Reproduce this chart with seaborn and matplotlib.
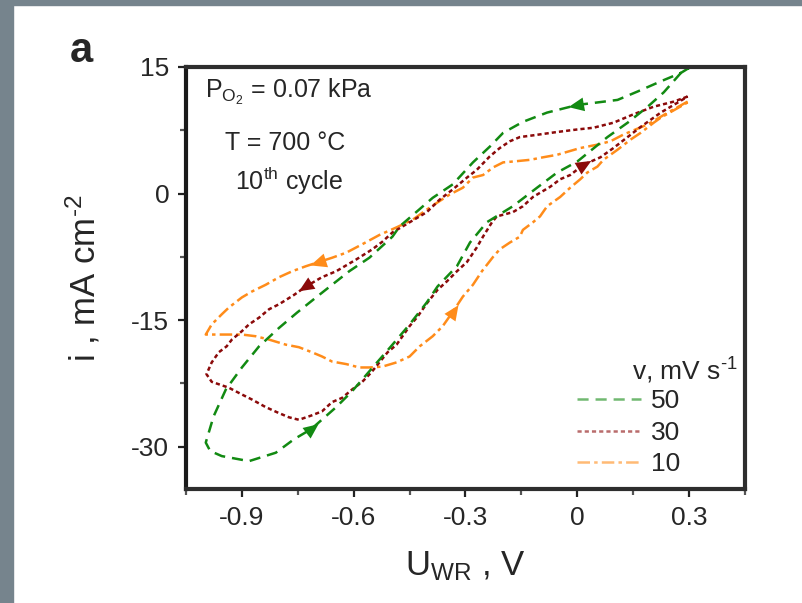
import numpy as np
import pandas as pd
import matplotlib
matplotlib.use("Agg")
import matplotlib.pyplot as plt
import seaborn as sns
from matplotlib.patches import Rectangle
from matplotlib.lines import Line2D
from matplotlib.path import Path
from matplotlib.ticker import FixedLocator, FixedFormatter

# ---------------- data ----------------
u50 = [0.30, 0.278, 0.224, 0.162, 0.108, 0.0, -0.081, -0.146, -0.199, -0.234, -0.280, -0.334,
       -0.388, -0.477, -0.496, -0.558, -0.612, -0.658, -0.701, -0.752, -0.800, -0.854, -0.900,
       -0.943, -0.976, -0.997, -0.985, -0.954, -0.881, -0.809, -0.760, -0.714, -0.647, -0.604,
       -0.496, -0.450, -0.404, -0.375, -0.323, -0.288, -0.243, -0.173, -0.108, -0.054, 0.0,
       0.081, 0.135, 0.189, 0.232, 0.278, 0.30]
i50 = [14.9, 14.3, 13.3, 12.1, 11.1, 10.5, 9.6, 8.5, 7.2, 5.6, 3.7, 1.1,
       -0.5, -3.9, -5.1, -7.6, -9.2, -10.8, -12.3, -14.1, -15.9, -18.1, -20.6,
       -23.2, -26.4, -29.5, -30.5, -31.1, -31.7, -30.7, -29.1, -27.9, -25.3, -23.4,
       -17.9, -15.5, -12.9, -11.0, -8.6, -5.8, -3.4, -1.5, 0.7, 2.5, 3.8,
       6.7, 8.4, 10.3, 12.0, 14.3, 14.9]

u30 = [0.296, 0.259, 0.205, 0.151, 0.097, 0.043, 0.0, -0.054, -0.119, -0.154, -0.181, -0.208,
       -0.235, -0.270, -0.296, -0.334, -0.369, -0.404, -0.450, -0.496, -0.523, -0.550, -0.593,
       -0.647, -0.685, -0.728, -0.760, -0.800, -0.827, -0.854, -0.881, -0.900, -0.927, -0.941,
       -0.962, -0.981, -0.995, -0.981, -0.935, -0.900, -0.873, -0.836, -0.806, -0.774, -0.747,
       -0.714, -0.685, -0.658, -0.631, -0.604, -0.577, -0.553, -0.531, -0.509, -0.485, -0.469,
       -0.450, -0.429, -0.402, -0.375, -0.350, -0.323, -0.296, -0.270, -0.253, -0.229, -0.216,
       -0.173, -0.146, -0.119, -0.073, -0.046, -0.019, 0.016, 0.062, 0.097, 0.135, 0.170,
       0.224, 0.270, 0.296]
i30 = [11.5, 10.9, 10.3, 9.4, 8.4, 7.8, 7.6, 7.3, 6.9, 6.7, 6.2, 5.4,
       4.4, 2.8, 1.9, 0.5, -0.7, -2.2, -3.4, -4.6, -5.7, -6.6, -7.8,
       -9.2, -9.9, -11.0, -12.0, -13.1, -13.7, -14.7, -15.5, -16.3, -17.3, -18.1,
       -18.8, -20.0, -21.4, -22.3, -23.0, -23.8, -24.4, -25.3, -25.9, -26.5, -26.8,
       -26.3, -25.8, -24.7, -24.2, -23.2, -22.3, -21.2, -20.0, -18.8, -17.9, -16.9,
       -15.7, -14.6, -12.9, -11.4, -10.4, -9.2, -8.1, -6.4, -5.1, -3.4, -2.7,
       -2.2, -1.5, -0.4, 0.8, 1.7, 2.2, 3.4, 4.3, 5.4, 6.7, 7.9,
       9.6, 10.8, 11.5]

u10 = [0.296, 0.243, 0.189, 0.124, 0.089, 0.054, 0.008, -0.054, -0.092, -0.127, -0.173, -0.199,
       -0.226, -0.253, -0.280, -0.307, -0.342, -0.377, -0.404, -0.442, -0.485, -0.531, -0.577,
       -0.620, -0.658, -0.693, -0.728, -0.765, -0.800, -0.836, -0.873, -0.900, -0.935, -0.954,
       -0.981, -0.997, -0.981, -0.935, -0.900, -0.863, -0.827, -0.782, -0.747, -0.712, -0.685,
       -0.658, -0.620, -0.585, -0.558, -0.523, -0.485, -0.450, -0.423, -0.388, -0.361, -0.334,
       -0.307, -0.280, -0.256, -0.226, -0.208, -0.181, -0.154, -0.146, -0.119, -0.100, -0.081,
       -0.046, -0.019, 0.008, 0.027, 0.054, 0.070, 0.108, 0.143, 0.170, 0.205, 0.224, 0.296]
i10 = [10.9, 9.6, 8.2, 7.0, 6.2, 5.8, 5.4, 4.6, 4.3, 4.0, 3.8, 3.7,
       3.1, 2.2, 1.9, 0.7, -0.1, -1.1, -1.9, -3.1, -4.0, -4.9, -6.0,
       -7.0, -7.6, -8.1, -8.6, -9.2, -9.9, -10.8, -11.6, -12.3, -13.5, -14.3,
       -15.5, -16.7, -16.7, -16.7, -16.7, -16.9, -17.3, -17.9, -18.2, -18.8, -19.3,
       -19.9, -20.2, -20.6, -20.6, -20.5, -20.0, -19.3, -18.1, -16.9, -15.7, -14.0,
       -12.2, -10.8, -9.2, -7.5, -6.6, -5.8, -5.1, -4.3, -3.4, -2.7, -1.5,
       -0.4, 0.7, 1.7, 2.5, 3.2, 4.0, 5.2, 6.4, 7.2, 8.4, 9.0, 10.8]

# arrow (direction marker) positions on each curve
arrows50 = [(0.0, 10.5), (-0.714, -27.9)]
arrows30 = [(-0.728, -11.0), (0.016, 3.4)]
arrows10 = [(-0.693, -8.1), (-0.334, -14.0)]

rate_labels = ["50", "30", "10"]
xtick_vals = [-0.9, -0.6, -0.3, 0.0, 0.3]
xtick_labels = ["-0.9", "-0.6", "-0.3", "0", "0.3"]
xminor_vals = [-1.05, -0.75, -0.45, -0.15, 0.15, 0.45]
ytick_vals = [15, 0, -15, -30]
ytick_labels = ["15", "0", "-15", "-30"]
yminor_vals = [7.5, -7.5, -22.5]

# ---------------- style ----------------
sns.set_theme(style="white")
plt.rcParams["font.family"] = ["Liberation Sans", "DejaVu Sans"]
plt.rcParams["mathtext.fontset"] = "custom"
plt.rcParams["mathtext.rm"] = "Liberation Sans"
plt.rcParams["mathtext.it"] = "Liberation Sans:italic"
plt.rcParams["mathtext.bf"] = "Liberation Sans:bold"
plt.rcParams["axes.unicode_minus"] = False
plt.rcParams["lines.scale_dashes"] = False

c50, c30, c10 = "#128a12", "#8b0a0a", "#ff8c1a"
dash50 = (8, 5)
dash30 = (3, 2.2)
dash10 = (9, 3, 2.5, 3)

fig = plt.figure(figsize=(8.03, 6.03), dpi=100)
W, H = 803, 603
ax = fig.add_axes([186 / W, 1 - 489 / H, (745 - 186) / W, (489 - 67) / H])

ax.set_xlim(-1.05, 0.45)
ax.set_ylim(-35, 15)

series = [
    (u10, i10, c10, dash10, arrows10),
    (u30, i30, c30, dash30, arrows30),
    (u50, i50, c50, dash50, arrows50),
]
for u, i, c, d, arr in series:
    df = pd.DataFrame({"U": u, "i": i})
    sns.lineplot(data=df, x="U", y="i", sort=False, estimator=None, color=c,
                 linewidth=1.8, ax=ax)
    ln = ax.lines[-1]
    ln.set_dashes(d)
    ln.set_dash_capstyle("butt")


def arrow_marker(angle_deg):
    """Isosceles arrow-head path pointing along angle_deg (display space)."""
    base = np.array([[1.0, 0.0], [-0.7, 0.75], [-0.7, -0.75], [1.0, 0.0]])
    a = np.radians(angle_deg)
    rot = np.array([[np.cos(a), -np.sin(a)], [np.sin(a), np.cos(a)]])
    verts = base @ rot.T
    codes = [Path.MOVETO] + [Path.LINETO] * (len(verts) - 2) + [Path.CLOSEPOLY]
    return Path(verts, codes)


# direction arrows (oriented along the sweep)
fig.canvas.draw()
for u, i, c, d, arr in series:
    ua = np.asarray(u)
    ia = np.asarray(i)
    for (xa, ya) in arr:
        k = int(np.argmin((ua - xa) ** 2 + ((ia - ya) / 40.0) ** 2))
        p0 = ax.transData.transform((ua[k - 1], ia[k - 1]))
        p1 = ax.transData.transform((ua[k + 1], ia[k + 1]))
        ang = np.degrees(np.arctan2(p1[1] - p0[1], p1[0] - p0[0]))
        ax.plot([xa], [ya], marker=arrow_marker(ang), markersize=13, color=c,
                markeredgewidth=0, linestyle="none", zorder=5)

# ticks
ax.xaxis.set_major_locator(FixedLocator(xtick_vals))
ax.xaxis.set_major_formatter(FixedFormatter(xtick_labels))
ax.xaxis.set_minor_locator(FixedLocator(xminor_vals))
ax.yaxis.set_major_locator(FixedLocator(ytick_vals))
ax.yaxis.set_major_formatter(FixedFormatter(ytick_labels))
ax.yaxis.set_minor_locator(FixedLocator(yminor_vals))
ax.tick_params(axis="both", which="major", direction="out", length=6, width=1.6,
               color="#222222", labelsize=19, pad=6, bottom=True, left=True)
ax.tick_params(axis="both", which="minor", direction="out", length=4, width=1.6,
               color="#555555", bottom=True, left=True)
for side in ["left", "right", "top", "bottom"]:
    ax.spines[side].set_linewidth(3.0)
    ax.spines[side].set_color("#1a1a1a" if side == "left" else "#2e2e2e")

ax.set_xlabel(r"U$_{\mathregular{WR}}$ , V", fontsize=25, labelpad=14)
ax.set_ylabel("i , mA cm$^{\\mathregular{\u20102}}$", fontsize=25, labelpad=21)

# annotations
ax.text(0.034, 0.926, r"P$_{\mathregular{O_2}}$ = 0.07 kPa", transform=ax.transAxes,
        fontsize=18, va="baseline", ha="left")
ax.text(0.070, 0.803, "T = 700 °C", transform=ax.transAxes,
        fontsize=18, va="baseline", ha="left")
ax.text(0.088, 0.709, r"10$^{\mathregular{th}}$ cycle", transform=ax.transAxes,
        fontsize=18, va="baseline", ha="left")

# legend
handles = [Line2D([], [], color=c50, lw=1.8, dashes=dash50, alpha=0.6),
           Line2D([], [], color=c30, lw=1.8, dashes=dash30, alpha=0.6),
           Line2D([], [], color=c10, lw=1.8, dashes=dash10, alpha=0.6)]
leg = ax.legend(handles, rate_labels, loc="upper left", bbox_to_anchor=(0.70, 0.236),
                frameon=False, fontsize=19, handlelength=2.4, handletextpad=0.4,
                labelspacing=0.28, borderpad=0, borderaxespad=0)
ax.text(0.798, 0.258, "v, mV s$^{\\mathregular{\u20101}}$", transform=ax.transAxes,
        fontsize=19, va="baseline", ha="left")

# panel letter
fig.text(70 / W, 1 - 62 / H, "a", fontsize=30, fontweight="bold", va="baseline", ha="left")

# grey frame strips at the top and left
fig.patches.append(Rectangle((0, 1 - 5 / H), 1, 5 / H, transform=fig.transFigure,
                             color="#76848d", zorder=0))
fig.patches.append(Rectangle((0, 0), 13 / W, 1, transform=fig.transFigure,
                             color="#76848d", zorder=0))

fig.savefig("out.png", dpi=100)
